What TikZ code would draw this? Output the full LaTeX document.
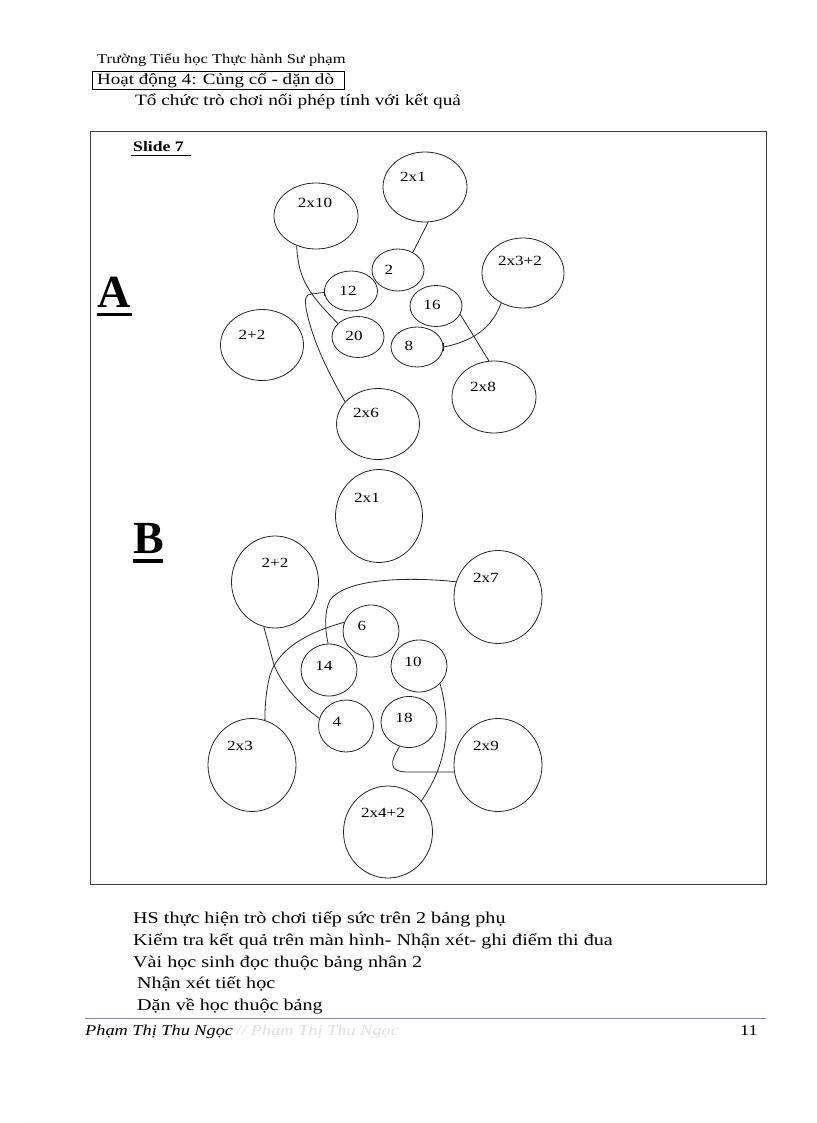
\documentclass[tikz,border=0pt]{standalone}
\usepackage{fontspec}
\setmainfont{Liberation Serif}
\newfontfamily\wideserif[FakeStretch=1.22]{Liberation Serif}
\usetikzlibrary{shapes.geometric}
\begin{document}
\begin{tikzpicture}[x=1pt,y=-1pt,
  bub/.style={draw=black!85, line width=0.8pt, ellipse, inner sep=0pt},
  lbl/.style={font=\wideserif\fontsize{14}{14}\selectfont, inner sep=0pt},
  link/.style={draw=black!85, line width=0.8pt},
  txt/.style={anchor=base west, inner sep=0pt},
  body/.style={txt, font=\wideserif\fontsize{16.5}{16.5}\selectfont},
  bigletter/.style={txt, font=\fontsize{46}{46}\selectfont\bfseries}
]
\useasboundingbox (0,0) rectangle (816,1123);
\fill[white] (0,0) rectangle (816,1123);

% header
\node[txt, font=\wideserif\fontsize{13.5}{13.5}\selectfont] (school) at (97,64) {Trường Tiểu học Thực hành Sư phạm};
\draw[black, line width=0.9pt] (92,71) rectangle (344,89);
\node[txt, font=\wideserif\fontsize{15.6}{15.6}\selectfont] (act) at (97,85) {Hoạt động 4: Củng cố - dặn dò};
\node[txt, font=\wideserif\fontsize{15.8}{15.8}\selectfont] (title) at (135,106) {Tổ chức trò chơi nối phép tính với kết quả};

% frame
\draw[black!75, line width=1pt] (90,132) rectangle (766,884);
\node[txt, font=\wideserif\fontsize{14.5}{14.5}\selectfont\bfseries] (slide) at (133,152) {Slide 7};
\draw[line width=0.8pt] (131,155) -- (191,155);

% letters
\node[bigletter] (letA) at (97,307) {A};
\draw[line width=3.5pt] (97,314.5) -- (132,314.5);
\node[bigletter] (letB) at (133,553) {B};
\draw[line width=3.5pt] (133,561) -- (163,561);

% ---------- section A ----------
\node[bub, minimum width=84pt, minimum height=66pt] (aX10) at (316,216) {};
\node[lbl] (taX10) at (315,203) {2x10};
\node[bub, minimum width=84pt, minimum height=70pt] (aX1) at (425,187) {};
\node[lbl] (taX1) at (413,177) {2x1};
\node[bub, minimum width=52pt, minimum height=42pt] (a2) at (398,270) {};
\node[lbl] (ta2) at (389,270) {2};
\node[bub, minimum width=53pt, minimum height=40pt] (a12) at (351,291) {};
\node[lbl] (ta12) at (348,291) {12};
\node[bub, minimum width=52pt, minimum height=41pt] (a16) at (436,306) {};
\node[lbl] (ta16) at (432,305) {16};
\node[bub, minimum width=52pt, minimum height=41pt] (a20) at (358,337) {};
\node[lbl] (ta20) at (354,336) {20};
\node[bub, minimum width=52pt, minimum height=40pt] (a8) at (417,347) {};
\node[lbl] (ta8) at (409,346) {8};
\node[bub, minimum width=82pt, minimum height=70pt] (aX3p2) at (523,273) {};
\node[lbl] (taX3p2) at (520,261) {2x3+2};
\node[bub, minimum width=83pt, minimum height=71pt] (aP2) at (262,345) {};
\node[lbl] (taP2) at (252,335) {2+2};
\node[bub, minimum width=83pt, minimum height=71pt] (aX6) at (378,424) {};
\node[lbl] (taX6) at (366,413) {2x6};
\node[bub, minimum width=84pt, minimum height=72pt] (aX8) at (494,397) {};
\node[lbl] (taX8) at (483,387) {2x8};

\draw[link] (aX10.237) .. controls (298,280) and (310,295) .. (a20.146);
\draw[link] (a12.183) -- (312,294) .. controls (305,294) and (305,299) .. (306,308) .. controls (312,340) and (328,372) .. (aX6.146);
\draw[link] ([yshift=-4pt]a12.183) -- ([yshift=4pt]a12.183);
\draw[link] (aX1.275) -- (a2.50);
\draw[link] (aX3p2.234) .. controls (494,322) and (480,340) .. (a8.0);
\draw[link] ([yshift=-4pt]a8.0) -- ([yshift=4pt]a8.0);
\draw[link] (a16.341) -- (aX8.98);

% ---------- section B ----------
\node[bub, minimum width=87pt, minimum height=93pt] (bX1) at (379,516) {};
\node[lbl] (tbX1) at (367,498) {2x1};
\node[bub, minimum width=87pt, minimum height=92pt] (bP2) at (275,582) {};
\node[lbl] (tbP2) at (275,563) {2+2};
\node[bub, minimum width=88pt, minimum height=93pt] (bX7) at (498,597) {};
\node[lbl] (tbX7) at (486,578) {2x7};
\node[bub, minimum width=56pt, minimum height=52pt] (b6) at (371,631) {};
\node[lbl] (tb6) at (362,626) {6};
\node[bub, minimum width=56pt, minimum height=52pt] (b14) at (329,670) {};
\node[lbl] (tb14) at (324,666) {14};
\node[bub, minimum width=56pt, minimum height=52pt] (b10) at (419,666) {};
\node[lbl] (tb10) at (413,662) {10};
\node[bub, minimum width=55pt, minimum height=52pt] (b4) at (346,726) {};
\node[lbl] (tb4) at (337,722) {4};
\node[bub, minimum width=56pt, minimum height=51pt] (b18) at (409,722) {};
\node[lbl] (tb18) at (404,718) {18};
\node[bub, minimum width=88pt, minimum height=93pt] (bX3) at (252,765) {};
\node[lbl] (tbX3) at (240,746) {2x3};
\node[bub, minimum width=88pt, minimum height=93pt] (bX9) at (498,765) {};
\node[lbl] (tbX9) at (486,746) {2x9};
\node[bub, minimum width=89pt, minimum height=92pt] (bX4p2) at (388,832) {};
\node[lbl] (tbX4p2) at (383,813) {2x4+2};

\draw[link] (bX7.160) .. controls (400,576) and (345,580) .. (330,600) .. controls (324,612) and (325,630) .. (b14.92);
\draw[link] (b6.162) .. controls (305,633) and (278,650) .. (270,675) .. controls (266,690) and (265,705) .. (bX3.74);
\draw[link] (bP2.256) -- (274,665) .. controls (282,685) and (300,705) .. (b4.164);
\draw[link] (b10.320) .. controls (450,720) and (450,760) .. (bX4p2.43);
\draw[link] (b18.249) .. controls (390,762) and (388,772) .. (408,772) -- (bX9.189);

% bottom text
\node[body] (l1) at (133,923) {HS thực hiện trò chơi tiếp sức trên 2 bảng phụ};
\node[body] (l2) at (133,945) {Kiểm tra kết quả trên màn hình- Nhận xét- ghi điểm thi đua};
\node[body] (l3) at (133,967) {Vài học sinh đọc thuộc bảng nhân 2};
\node[body] (l4) at (137,988) {Nhận xét tiết học};
\node[body] (l5) at (137,1010) {Dặn về học thuộc bảng};

% footer
\draw[color={rgb,255:red,130;green,130;blue,170}, line width=1pt] (85,1018) -- (766,1018);
\node[txt, font=\wideserif\fontsize{15}{15}\selectfont\itshape] (author) at (85,1035) {Phạm Thị Thu Ngọc};
\node[txt, font=\wideserif\fontsize{15}{15}\selectfont\itshape, text=black!12] (ghost) at (236,1035) {// Phạm Thị Thu Ngọc};
\node[txt, font=\wideserif\fontsize{15}{15}\selectfont] (page) at (740,1035) {11};
\draw[black!10, dash pattern=on 1pt off 7pt] (25,1121) -- (810,1121);
\end{tikzpicture}
\end{document}
